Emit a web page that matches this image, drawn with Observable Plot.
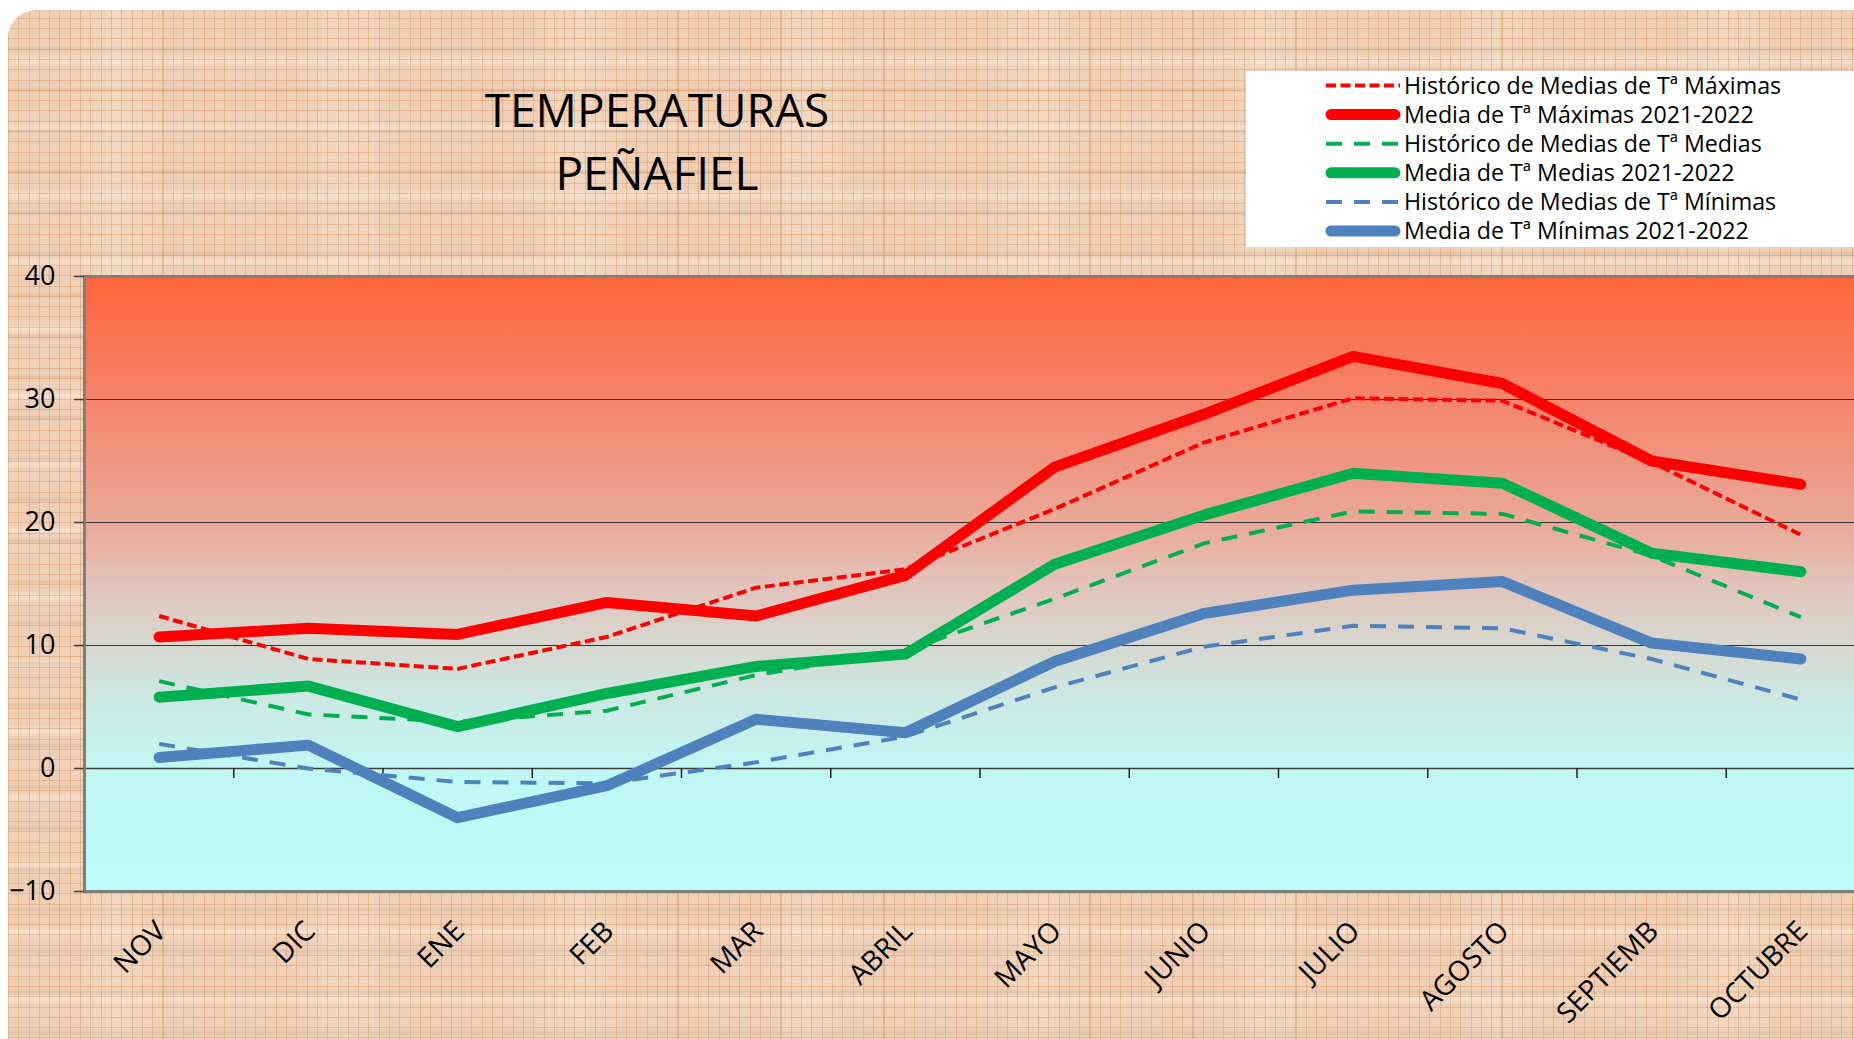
<!DOCTYPE html>
<html>
<head>
<meta charset="utf-8">
<script src="https://cdn.jsdelivr.net/npm/d3@7"></script>
<script src="https://cdn.jsdelivr.net/npm/@observablehq/plot@0.6"></script>
<style>
html, body { margin:0; padding:0; background:#fff; overflow:hidden; width:1854px; height:1039px; }
#bg {
  position:absolute; left:8px; top:10px; width:1900px; height:1080px;
  border-radius:28px 0 0 28px;
  background:
    repeating-linear-gradient(90deg, rgba(205,128,70,0.34) 0 1px, rgba(0,0,0,0) 1px 10.3px),
    repeating-linear-gradient(0deg, rgba(205,128,70,0.34) 0 1px, rgba(0,0,0,0) 1px 10.3px),
    repeating-linear-gradient(0deg, rgba(120,80,50,0) 0 13px, rgba(120,80,50,0.12) 16px, rgba(120,80,50,0) 19px 41px),
    repeating-linear-gradient(0deg, rgba(255,246,236,0) 0 18px, rgba(255,246,236,0.40) 24px, rgba(255,246,236,0) 30px 67px),
    repeating-linear-gradient(90deg, rgba(255,246,236,0) 0 60px, rgba(255,246,236,0.20) 110px, rgba(255,246,236,0) 160px 230px),
    #EFD0B6;
}
#chart { position:absolute; left:0; top:0; }
#chart svg { max-width:none !important; background:transparent !important; }
#overlay { position:absolute; left:0; top:0; pointer-events:none; }
</style>
</head>
<body>
<div id="bg"></div>
<div id="chart"></div>
<svg id="overlay" width="1854" height="1039"></svg>
<script>
// ---- data ----
const months = ["NOV","DIC","ENE","FEB","MAR","ABRIL","MAYO","JUNIO","JULIO","AGOSTO","SEPTIEMB","OCTUBRE"];
const histMax  = [12.4, 8.9, 8.1, 10.7, 14.7, 16.2, 21.1, 26.5, 30.1, 29.9, 24.9, 19.0];
const mediaMax = [10.7, 11.4, 10.9, 13.5, 12.4, 15.7, 24.5, 28.8, 33.5, 31.3, 25.0, 23.1];
const histMed  = [7.1, 4.4, 3.8, 4.7, 7.6, 9.6, 13.8, 18.3, 20.9, 20.7, 17.3, 12.3];
const mediaMed = [5.8, 6.7, 3.4, 6.1, 8.3, 9.3, 16.6, 20.6, 24.0, 23.2, 17.5, 16.0];
const histMin  = [2.0, 0.0, -1.1, -1.2, 0.5, 2.6, 6.6, 9.9, 11.6, 11.4, 8.9, 5.6];
const mediaMin = [0.9, 1.9, -4.0, -1.4, 4.0, 2.9, 8.7, 12.6, 14.5, 15.2, 10.2, 8.9];
const yTicks = [-10, 0, 10, 20, 30, 40];
const seriesNames = [
  "Histórico de Medias de Tª Máximas",
  "Media de Tª Máximas 2021-2022",
  "Histórico de Medias de Tª Medias",
  "Media de Tª Medias 2021-2022",
  "Histórico de Medias de Tª Mínimas",
  "Media de Tª Mínimas 2021-2022"
];
const titleLines = ["TEMPERATURAS", "PEÑAFIEL"];

// ---- styles ----
const seriesValues = [histMax, mediaMax, histMed, mediaMed, histMin, mediaMin];
const seriesStyle = [
  {stroke:"#FF0000", strokeWidth:4, dash:"10,4.5", cap:"butt"},
  {stroke:"#FF0000", strokeWidth:11, dash:null, cap:"round"},
  {stroke:"#00B050", strokeWidth:4, dash:"16,12", cap:"butt"},
  {stroke:"#00B050", strokeWidth:11, dash:null, cap:"round"},
  {stroke:"#4F81BD", strokeWidth:4, dash:"16,12", cap:"butt"},
  {stroke:"#4F81BD", strokeWidth:11, dash:null, cap:"round"}
];

const W = 1875, H = 1039, ML = 84, MR = 0, MT = 276, MB = 148;
const step = (W - ML - MR) / months.length;

const lineMarks = seriesValues.map((vals, k) => {
  const data = months.map((m, i) => ({month: m, value: vals[i]}));
  const s = seriesStyle[k];
  return Plot.line(data, {
    x: "month", y: "value",
    stroke: s.stroke, strokeWidth: s.strokeWidth,
    strokeDasharray: s.dash || undefined,
    strokeLinecap: s.cap, strokeLinejoin: "round"
  });
});

const chart = Plot.plot({
  width: W, height: H,
  marginLeft: ML, marginRight: MR, marginTop: MT, marginBottom: MB,
  style: {background: "transparent", fontFamily: "'Open Sans', sans-serif", maxWidth: "none", overflow: "visible"},
  x: {type: "point", domain: months, padding: 0.5, round: false, label: null},
  y: {domain: [-10, 40], label: null},
  marks: [
    Plot.frame({fill: "url(#plotGrad)"}),
    Plot.ruleY([10, 20, 30], {stroke: "#333333", strokeWidth: 1}),
    Plot.ruleY([0], {stroke: "#3c3c3c", strokeWidth: 1.5}),
    Plot.ruleX(months.slice(1), {x: d => d, y1: 0, y2: -0.82, dx: -step / 2, stroke: "#222", strokeWidth: 1.5}),
    Plot.frame({stroke: "#7f7f7f", strokeWidth: 3}),
    Plot.axisY({ticks: yTicks, tickSize: 10, tickPadding: 19, fontSize: 27, stroke: "#404040", fill: "black", strokeWidth: 1.5}),
    Plot.axisX({tickSize: 0, tickRotate: -45, tickPadding: 35, dx: 2, fontSize: 28, fill: "black"}),
    ...lineMarks
  ]
});
document.getElementById("chart").appendChild(chart);

// gradient definition for the plot background
const svg = d3.select(chart);
const defs = svg.insert("defs", ":first-child");
const grad = defs.append("linearGradient").attr("id", "plotGrad")
  .attr("x1", 0).attr("y1", 0).attr("x2", 0).attr("y2", 1);
[[0, "#FF663A"], [0.2, "#F5836B"], [0.4, "#EAA898"], [0.5, "#E2C3BA"],
 [0.6, "#D6D8D0"], [0.7, "#CBEAE5"], [0.8, "#C1F6F3"], [1, "#BDFBFA"]]
  .forEach(([o, c]) => grad.append("stop").attr("offset", o).attr("stop-color", c));

// ---- title and legend overlay ----
const ov = d3.select("#overlay");
ov.append("g").selectAll("text").data(titleLines).join("text")
  .attr("x", 657).attr("y", (d, i) => 127 + i * 63)
  .attr("text-anchor", "middle")
  .attr("font-family", "'Open Sans', sans-serif").attr("font-size", 46)
  .attr("fill", "black").text(d => d);

const lg = ov.append("g");
lg.append("rect").attr("x", 1246).attr("y", 71).attr("width", 640).attr("height", 176).attr("fill", "white");
seriesNames.forEach((name, k) => {
  const s = seriesStyle[k];
  const base = 93.5 + k * 29.1;
  const ln = lg.append("line")
    .attr("x1", s.cap === "round" ? 1331 : 1326).attr("x2", s.cap === "round" ? 1395 : 1400)
    .attr("y1", base - 8).attr("y2", base - 8)
    .attr("stroke", s.stroke).attr("stroke-width", s.strokeWidth)
    .attr("stroke-linecap", s.cap);
  if (s.dash) ln.attr("stroke-dasharray", s.dash);
  lg.append("text").attr("x", 1404).attr("y", base)
    .attr("font-family", "'Open Sans', sans-serif").attr("font-size", 23.2)
    .attr("fill", "black").text(name);
});
</script>
</body>
</html>
